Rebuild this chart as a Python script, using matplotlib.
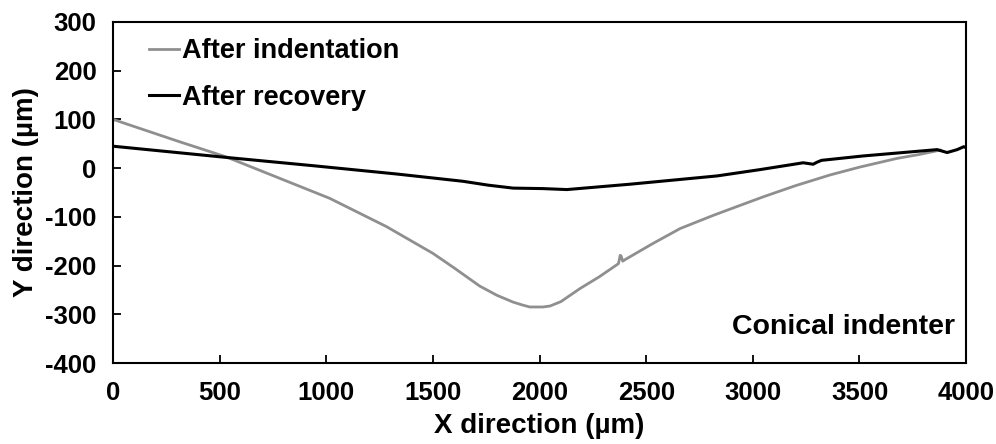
import numpy as np
import matplotlib.pyplot as plt

plt.rcParams['font.family'] = ['Liberation Sans', 'DejaVu Sans']
plt.rcParams['font.weight'] = 'bold'
plt.rcParams['axes.unicode_minus'] = False

# After indentation (grey)
x_ind = [0, 313, 531, 782, 1016, 1282, 1500, 1600, 1719, 1800, 1876, 1920, 1954, 2016,
         2049, 2100, 2190, 2280, 2370, 2378, 2382, 2390, 2400, 2530, 2659, 2814,
         2900, 3048, 3200, 3362, 3500, 3676, 3780, 3878]
y_ind = [100, 54, 23, -21, -62, -120, -175, -205, -242, -261, -275, -281, -285, -285,
         -283, -274, -247, -223, -196, -179, -180, -191, -188, -155, -124, -97,
         -83, -59, -36, -14, 2, 20, 28, 37]

# After recovery (black)
x_rec = [0, 531, 938, 1329, 1641, 1760, 1876, 2016, 2128, 2424, 2832, 3034, 3236,
         3283, 3300, 3322, 3517, 3864, 3911, 3958, 3989, 4000]
y_rec = [45, 22, 5, -12, -27, -35, -41, -42, -44, -33, -16, -3, 11,
         8, 12, 16, 25, 38, 32, 38, 44, 42]

fig = plt.figure(figsize=(9.96, 4.44), dpi=100)
ax = fig.add_axes([0.1135, 0.1824, 0.8565, 0.7681])

ax.plot(x_ind, y_ind, color='#8f8f8f', lw=2.0, label='After indentation')
ax.plot(x_rec, y_rec, color='black', lw=2.2, label='After recovery')

ax.set_xlim(0, 4000)
ax.set_ylim(-400, 300)
ax.set_xticks(np.arange(0, 4001, 500))
ax.set_yticks(np.arange(-400, 301, 100))
ax.tick_params(direction='in', length=6, width=1.3, labelsize=18.5)
ax.tick_params(axis='x', pad=13)
ax.tick_params(axis='y', pad=12)
for s in ax.spines.values():
    s.set_linewidth(1.5)

ax.set_xlabel('X direction (µm)', fontsize=20, fontweight='bold', labelpad=6)
ax.set_ylabel('Y direction (µm)', fontsize=20, fontweight='bold', labelpad=4)

ax.legend(loc='upper left', bbox_to_anchor=(0.023, 1.0), frameon=False,
          fontsize=19.5, handlelength=1.1, handletextpad=0.12, labelspacing=0.75,
          borderaxespad=0.2)

ax.text(0.987, 0.106, 'Conical indenter', transform=ax.transAxes, ha='right',
        va='center', fontsize=20.5, fontweight='bold')

fig.savefig('out.png', dpi=100)
